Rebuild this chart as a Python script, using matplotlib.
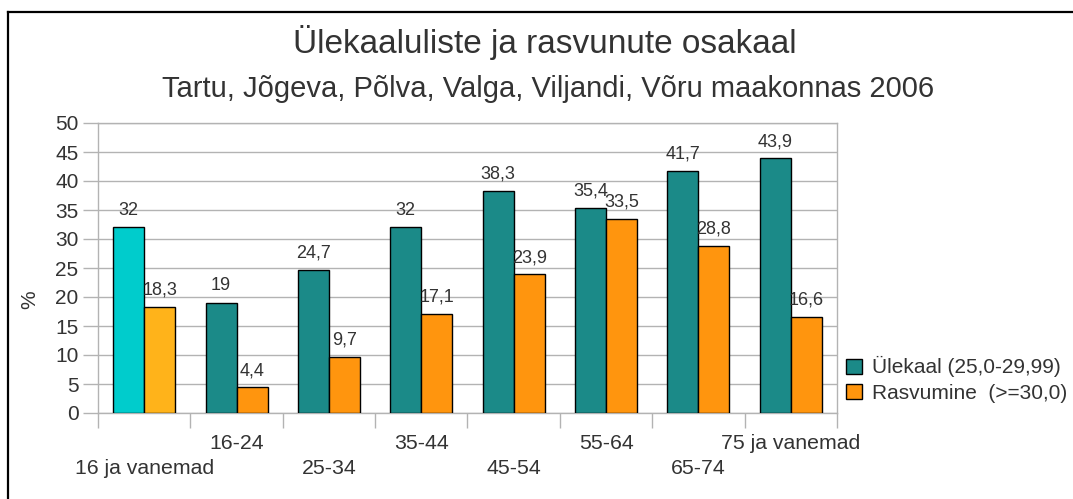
import numpy as np
import matplotlib

matplotlib.use("Agg")
import matplotlib.pyplot as plt
from matplotlib.patches import Patch
from matplotlib.lines import Line2D

groups = ["16 ja vanemad", "16-24", "25-34", "35-44", "45-54", "55-64", "65-74", "75 ja vanemad"]
overweight = [32, 19, 24.7, 32, 38.3, 35.4, 41.7, 43.9]
obese = [18.3, 4.4, 9.7, 17.1, 23.9, 33.5, 28.8, 16.6]

teal = "#1b8a88"
orange = "#ff950e"
grid_grey = "#b3b3b3"
text_grey = "#333333"

plt.rcParams["font.family"] = ["Liberation Sans", "DejaVu Sans"]


def fmt(v):
    s = f"{v:g}"
    return s.replace(".", ",")


fig = plt.figure(figsize=(10.73, 4.99), dpi=100)
ax = fig.add_axes([98 / 1073, 1 - 413 / 499, (837 - 98) / 1073, (413 - 123) / 499])

x = np.arange(len(groups)) + 0.5
w = 0.335
col_a = [teal] * len(groups)
col_b = [orange] * len(groups)
col_a[0] = "#00cccc"
col_b[0] = "#ffb31a"

bars_a = ax.bar(x - w / 2, overweight, w, color=col_a, edgecolor="black", linewidth=1, zorder=3)
bars_b = ax.bar(x + w / 2, obese, w, color=col_b, edgecolor="black", linewidth=1, zorder=3)

for bars, vals in ((bars_a, overweight), (bars_b, obese)):
    for b, v in zip(bars, vals):
        ax.annotate(fmt(v), (b.get_x() + b.get_width() / 2, v), xytext=(0, 6),
                    textcoords="offset points", ha="center", va="bottom",
                    fontsize=13, color=text_grey)

ax.set_xlim(0, len(groups))
ax.set_ylim(0, 50)
ax.set_yticks(range(0, 51, 5))
ax.set_xticks(range(len(groups) + 1))
ax.set_xticklabels([])
ax.tick_params(axis="y", length=11, width=1, color=grid_grey, labelsize=15,
               labelcolor=text_grey, pad=3)
ax.tick_params(axis="x", length=11, width=1, color=grid_grey)
ax.yaxis.grid(True, color=grid_grey, linewidth=1, zorder=0)
for s in ax.spines.values():
    s.set_color(grid_grey)
    s.set_linewidth(1)

# staggered category labels
for i, name in enumerate(groups):
    yy = -0.105 if i % 2 else -0.19
    ax.text(x[i], yy, name, transform=ax.get_xaxis_transform(), ha="center",
            va="center", fontsize=15.3, color=text_grey)

fig.text(30 / 1073, 1 - 300 / 499, "%", rotation=90, ha="center", va="center",
         fontsize=15, color=text_grey)

fig.text(545 / 1073, 1 - 43 / 499, "Ülekaaluliste ja rasvunute osakaal",
         ha="center", va="center", fontsize=24, color=text_grey)
fig.text(548 / 1073, 1 - 89 / 499, "Tartu, Jõgeva, Põlva, Valga, Viljandi, Võru maakonnas 2006",
         ha="center", va="center", fontsize=21, color=text_grey)

handles = [Patch(facecolor=teal, edgecolor="black"), Patch(facecolor=orange, edgecolor="black")]
fig.legend(handles, ["Ülekaal (25,0-29,99)", "Rasvumine  (>=30,0)"],
           loc="upper left", bbox_to_anchor=(838 / 1073, 1 - 348 / 499),
           frameon=False, fontsize=15, labelcolor=text_grey,
           handlelength=0.75, handleheight=0.75, handletextpad=0.5,
           labelspacing=0.3, borderaxespad=0)

# outer frame
fig.add_artist(Line2D([8 / 1073, 1], [1 - 12 / 499, 1 - 12 / 499], color="black", linewidth=1.6))
fig.add_artist(Line2D([8 / 1073, 8 / 1073], [0, 1 - 12 / 499], color="black", linewidth=1.6))

fig.savefig("out.png", dpi=100, facecolor="white")
